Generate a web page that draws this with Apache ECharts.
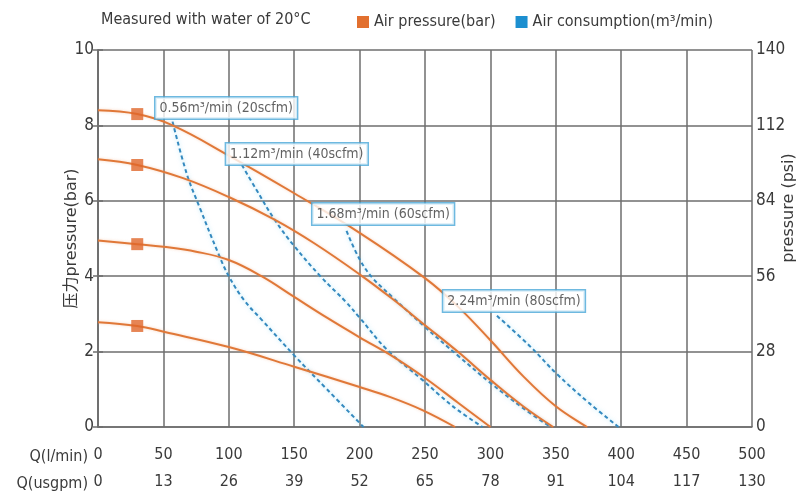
<!DOCTYPE html>
<html>
<head>
<meta charset="utf-8">
<script src="https://cdn.jsdelivr.net/npm/echarts@6/dist/echarts.min.js"></script>
<style>
  html, body { margin: 0; padding: 0; background: #ffffff; }
  #chart { width: 804px; height: 501px; }
</style>
</head>
<body>
<div id="chart"></div>
<script>
// ---- data ----
const flowTicksLmin = [0, 50, 100, 150, 200, 250, 300, 350, 400, 450, 500];
const flowTicksUsgpm = [0, 13, 26, 39, 52, 65, 78, 91, 104, 117, 130];
const barTicks = [0, 2, 4, 6, 8, 10];
const psiTicks = [0, 28, 56, 84, 112, 140];

// Air pressure curves (Q l/min, bar)
const pressure8 = [[0, 8.4], [30, 8.3], [57, 8.0], [100, 7.2], [150, 6.2], [200, 5.15], [250, 3.95], [275, 3.2], [300, 2.3], [325, 1.35], [350, 0.55], [374, 0]];
const pressure7 = [[0, 7.1], [30, 6.95], [65, 6.6], [100, 6.1], [135, 5.5], [165, 4.88], [200, 4.05], [225, 3.4], [250, 2.7], [275, 2.0], [300, 1.25], [325, 0.55], [348, 0]];
const pressure5 = [[0, 4.95], [30, 4.85], [50, 4.78], [75, 4.65], [100, 4.43], [125, 4.0], [150, 3.45], [175, 2.9], [200, 2.38], [225, 1.88], [250, 1.3], [275, 0.65], [300, 0]];
const pressure3 = [[0, 2.78], [30, 2.68], [51, 2.52], [100, 2.12], [150, 1.6], [200, 1.06], [223, 0.8], [248, 0.45], [273, 0]];

// Air consumption curves (Q l/min, bar)
const air056 = [[57, 8.1], [68, 6.7], [78, 5.8], [92, 4.6], [100, 4.0], [112, 3.35], [125, 2.85], [150, 1.9], [175, 1.0], [203, 0]];
const air112 = [[110, 6.95], [121, 6.3], [135, 5.5], [150, 4.8], [170, 4.0], [190, 3.3], [200, 2.9], [221, 2.05], [248, 1.25], [261, 0.85], [275, 0.45], [294, 0]];
const air168 = [[190, 5.2], [200, 4.45], [210, 3.95], [225, 3.45], [250, 2.65], [275, 1.9], [300, 1.17], [325, 0.5], [346, 0]];
const air224 = [[305, 2.95], [330, 2.15], [351, 1.4], [375, 0.65], [398, 0]];

// starting-point markers (Q, bar)
const markerPoints = [[30, 8.3], [30, 6.95], [30, 4.85], [30, 2.68]];

// consumption labels: anchor (Q, bar) and text
const airLabelAnchors = [[98, 8.46], [152, 7.24], [218, 5.65], [318, 3.34]];
const airLabelTexts = ['0.56m³/min (20scfm)', '1.12m³/min (40scfm)', '1.68m³/min (60scfm)', '2.24m³/min (80scfm)'];

const titleText = 'Measured with water of 20°C';
const pressureName = 'Air pressure(bar)';
const airName = 'Air consumption(m³/min)';
const leftAxisName = '压力pressure(bar)';
const rightAxisName = 'pressure (psi)';
const xRowNames = ['Q(l/min)', 'Q(usgpm)'];

// ---- styles ----
const FONT = "'Liberation Sans Narrow', 'DejaVu Sans Condensed', 'Noto Sans CJK SC', sans-serif";
const TXT = '#3a3a3a';
const GRIDC = '#6e6e6e';
const ORANGE = '#e07838';
const BLUE = '#3489bf';

function pressureSeries(data) {
  return {
    name: pressureName, type: 'line', data: data, smooth: 0.4,
    xAxisIndex: 0, yAxisIndex: 0, showSymbol: false, symbol: 'none',
    color: '#e2702f',
    lineStyle: { color: ORANGE, width: 2, shadowColor: 'rgba(240,160,110,0.45)', shadowBlur: 3 },
    z: 3
  };
}
function airSeries(data) {
  return {
    name: airName, type: 'line', data: data, smooth: 0.4,
    xAxisIndex: 0, yAxisIndex: 0, showSymbol: false, symbol: 'none',
    color: '#1c8fd0',
    lineStyle: { color: BLUE, width: 2, type: [4, 3], shadowColor: 'rgba(120,210,240,0.6)', shadowBlur: 4 },
    z: 2
  };
}

const chart = echarts.init(document.getElementById('chart'));
chart.setOption({
  animation: false,
  backgroundColor: '#ffffff',
  title: {
    text: titleText, left: 96, top: 7,
    textStyle: { fontFamily: FONT, fontSize: 16, fontWeight: 'normal', color: TXT }
  },
  legend: {
    left: 352, top: 9, itemWidth: 12, itemHeight: 12, itemGap: 20,
    icon: 'rect',
    data: [
      { name: pressureName, itemStyle: { color: '#e2702f' } },
      { name: airName, itemStyle: { color: '#1c8fd0' } }
    ],
    textStyle: { fontFamily: FONT, fontSize: 16, color: TXT }
  },
  grid: { left: 98, right: 52, top: 50, bottom: 74 },
  xAxis: [
    {
      type: 'value', min: 0, max: 500, interval: 50, position: 'bottom',
      axisLine: { show: true, lineStyle: { color: GRIDC, width: 1.5 } },
      axisTick: { show: false },
      splitLine: { show: true, lineStyle: { color: GRIDC, width: 1.5 } },
      axisLabel: {
        margin: 20, fontFamily: FONT, fontSize: 16, color: TXT,
        formatter: v => String(flowTicksLmin[Math.round(v / 50)])
      }
    },
    {
      type: 'value', min: 0, max: 500, interval: 50, position: 'bottom', offset: 27,
      axisLine: { show: false }, axisTick: { show: false }, splitLine: { show: false },
      axisLabel: {
        margin: 20, fontFamily: FONT, fontSize: 16, color: TXT,
        formatter: v => String(flowTicksUsgpm[Math.round(v / 50)])
      }
    }
  ],
  yAxis: [
    {
      type: 'value', min: 0, max: 10, interval: 2, position: 'left',
      name: leftAxisName, nameLocation: 'middle', nameGap: 18, nameRotate: 90,
      nameMoveOverlap: false,
      nameTextStyle: { fontFamily: "'DejaVu Sans', 'Noto Sans CJK SC', sans-serif", fontSize: 16, color: TXT },
      axisLine: { show: true, lineStyle: { color: GRIDC, width: 1.5 } },
      axisTick: { show: true, length: 5, lineStyle: { color: GRIDC, width: 1.5 } },
      splitLine: { show: true, lineStyle: { color: GRIDC, width: 1.5 } },
      axisLabel: {
        margin: 4, fontFamily: FONT, fontSize: 17, color: TXT,
        formatter: v => String(barTicks[Math.round(v / 2)])
      }
    },
    {
      type: 'value', min: 0, max: 140, interval: 28, position: 'right',
      axisLine: { show: true, lineStyle: { color: GRIDC, width: 1.5 } },
      axisTick: { show: true, length: 5, lineStyle: { color: GRIDC, width: 1.5 } },
      splitLine: { show: false },
      axisLabel: {
        margin: 4, fontFamily: FONT, fontSize: 17, color: TXT,
        formatter: v => String(psiTicks[Math.round(v / 28)])
      }
    }
  ],
  graphic: [
    { type: 'text', x: 88, y: 457, style: { text: xRowNames[0], align: 'right', verticalAlign: 'middle', font: "16px " + FONT, fill: TXT } },
    { type: 'text', x: 88, y: 484, style: { text: xRowNames[1], align: 'right', verticalAlign: 'middle', font: "16px " + FONT, fill: TXT } },
    { type: 'text', x: 789, y: 208, rotation: Math.PI / 2, style: { text: rightAxisName, align: 'center', verticalAlign: 'middle', font: "16px 'DejaVu Sans', sans-serif", fill: TXT } }
  ],
  series: [
    pressureSeries(pressure8),
    pressureSeries(pressure7),
    pressureSeries(pressure5),
    pressureSeries(pressure3),
    airSeries(air056),
    airSeries(air112),
    airSeries(air168),
    airSeries(air224),
    {
      name: 'markers', type: 'scatter', data: markerPoints, symbol: 'rect', symbolSize: 12,
      itemStyle: { color: '#e0662a' }, z: 5, silent: true
    },
    {
      name: 'labels', type: 'scatter', data: airLabelAnchors, symbolSize: 0, z: 10, silent: true,
      label: {
        show: true, position: 'inside',
        formatter: p => airLabelTexts[p.dataIndex],
        fontFamily: FONT, fontSize: 14, color: TXT,
        backgroundColor: '#ffffff', borderColor: '#4aa8d8', borderWidth: 1.5,
        padding: [4, 4, 3, 4]
      }
    }
  ]
});
</script>
</body>
</html>
